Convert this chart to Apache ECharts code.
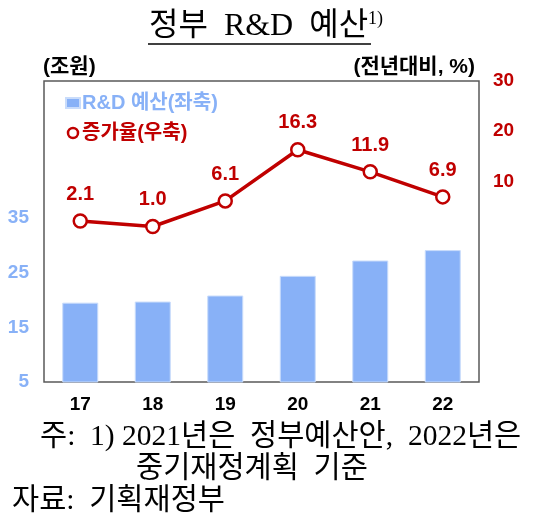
<!DOCTYPE html>
<html>
<head>
<meta charset="utf-8">
<script src="https://cdn.jsdelivr.net/npm/echarts@6/dist/echarts.min.js"></script>
<style>
  html, body { margin: 0; padding: 0; background: #fff; }
  #chart { width: 547px; height: 522px; }
</style>
</head>
<body>
<div id="chart"></div>
<script>
// data
const years = ['17', '18', '19', '20', '21', '22'];
const budget = [19.5, 19.7, 20.8, 24.4, 27.2, 29.1];   // 조원, left axis
const growth = [2.1, 1.0, 6.1, 16.3, 11.9, 6.9];        // %, right axis
const leftTicksShown = [5, 15, 25, 35];
const rightTicksShown = [10, 20, 30];

const sans = 'Liberation Sans, Noto Sans CJK KR, sans-serif';
const serif = 'Liberation Serif, Noto Sans CJK KR, serif';
const blue = '#88B1F7';
const red = '#C00000';

const chart = echarts.init(document.getElementById('chart'), null, { renderer: 'canvas' });

chart.setOption({
  animation: false,
  grid: {
    left: 44, right: 68, top: 81, bottom: 140,
    show: true, borderColor: '#595959', borderWidth: 1.5, backgroundColor: 'transparent'
  },
  legend: {
    orient: 'vertical',
    left: 60, top: 88,
    itemGap: 10,
    itemWidth: 14, itemHeight: 10,
    textStyle: { fontFamily: sans, fontSize: 20, fontWeight: 'bold', padding: [0, 0, 0, -3] },
    data: [
      { name: 'R&D 예산(좌축)', icon: 'rect', itemStyle: { color: blue }, textStyle: { color: blue } },
      { name: '증가율(우축)', icon: 'circle',
        itemStyle: { color: '#fff', borderColor: red, borderWidth: 2.5 }, textStyle: { color: red } }
    ]
  },
  xAxis: {
    type: 'category',
    data: years,
    axisLine: { show: false },
    axisTick: { show: false },
    axisLabel: { color: '#000', fontFamily: sans, fontSize: 19, fontWeight: 'bold', margin: 13 }
  },
  yAxis: [
    {
      type: 'value', min: 5, max: 60, interval: 10,
      splitLine: { show: false }, axisLine: { show: false }, axisTick: { show: false },
      axisLabel: {
        color: blue, fontFamily: sans, fontSize: 19, fontWeight: 'bold', margin: 15,
        formatter: v => leftTicksShown.includes(v) ? String(v) : ''
      }
    },
    {
      type: 'value', min: -30, max: 30, interval: 10,
      splitLine: { show: false }, axisLine: { show: false }, axisTick: { show: false },
      axisLabel: {
        color: red, fontFamily: sans, fontSize: 19, fontWeight: 'bold', margin: 14,
        formatter: v => rightTicksShown.includes(v) ? String(v) : ''
      }
    }
  ],
  series: [
    {
      name: 'R&D 예산(좌축)',
      type: 'bar',
      data: budget,
      barWidth: 36,
      itemStyle: { color: blue, borderColor: '#C9DCFB', borderWidth: 1 }
    },
    {
      name: '증가율(우축)',
      type: 'line',
      yAxisIndex: 1,
      data: growth,
      symbol: 'circle',
      symbolSize: 13,
      lineStyle: { color: red, width: 3.5 },
      itemStyle: { color: '#fff', borderColor: red, borderWidth: 2.5 },
      label: {
        show: true, position: 'top', distance: 9,
        color: red, fontFamily: sans, fontSize: 20, fontWeight: 'bold',
        formatter: p => p.value.toFixed(1)
      }
    }
  ],
  graphic: [
    {
      type: 'text', left: 149, top: 10,
      style: {
        text: '{t|정부  R&D  예산}{s|1)}',
        rich: {
          t: { fontFamily: serif, fontSize: 32, fill: '#000' },
          s: { fontFamily: serif, fontSize: 18, fill: '#000', verticalAlign: 'top', padding: [0, 0, 16, 0] }
        }
      }
    },
    { type: 'line', shape: { x1: 148, y1: 44, x2: 371, y2: 44 }, style: { stroke: '#000', lineWidth: 1.3 } },
    {
      type: 'text', left: 43, top: 57,
      style: { text: '(조원)', fontFamily: sans, fontSize: 21, fontWeight: 'bold', fill: '#000' }
    },
    {
      type: 'text', right: 72, top: 57,
      style: { text: '(전년대비, %)', fontFamily: sans, fontSize: 21, fontWeight: 'bold', fill: '#000' }
    },
    {
      type: 'text', left: 40, top: 422,
      style: { text: '주:  1) 2021년은  정부예산안,  2022년은', fontFamily: serif, fontSize: 29.5, fill: '#000' }
    },
    {
      type: 'text', left: 136, top: 454,
      style: { text: '중기재정계획  기준', fontFamily: serif, fontSize: 29.5, fill: '#000' }
    },
    {
      type: 'text', left: 12, top: 486,
      style: { text: '자료:  기획재정부', fontFamily: serif, fontSize: 29.5, fill: '#000' }
    }
  ]
});
</script>
</body>
</html>
